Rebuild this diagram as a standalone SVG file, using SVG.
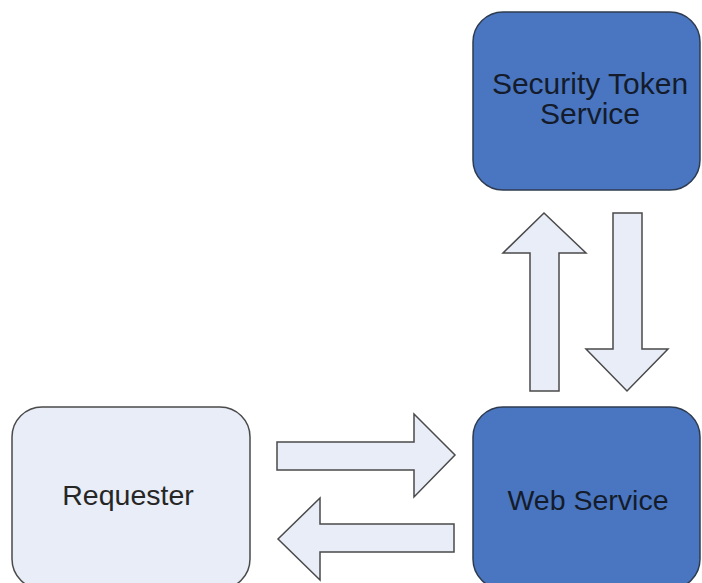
<svg xmlns="http://www.w3.org/2000/svg" width="702" height="583" viewBox="0 0 702 583">
  <style>
    .box-dark { fill: #4a76c1; stroke: #2e3b4f; stroke-width: 1.5; }
    .box-light { fill: #e8edf7; stroke: #4a4a4a; stroke-width: 1.5; }
    .label { font-family: "Liberation Sans", Arial, sans-serif; font-size: 28.5px; text-anchor: middle; }
    .label-big { font-size: 30px; }
    .label-dark { fill: #141c2c; }
    .label-light { fill: #262626; }
    .arrow { fill: #e8edf7; stroke: #4a4a4a; stroke-width: 1.5; stroke-linejoin: miter; }
  </style>
  <rect width="702" height="583" fill="#ffffff"/>

  <g id="sts">
    <rect class="box-dark" x="473" y="12" width="227" height="178" rx="30" ry="30"/>
    <text class="label label-big label-dark" x="590" y="94">Security Token</text>
    <text class="label label-big label-dark" x="590" y="124">Service</text>
  </g>

  <g id="web-service">
    <rect class="box-dark" x="473" y="407" width="227" height="182" rx="30" ry="30"/>
    <text class="label label-dark" x="588" y="510">Web Service</text>
  </g>

  <g id="requester">
    <rect class="box-light" x="12" y="407" width="238" height="182" rx="30" ry="30"/>
    <text class="label label-light" x="128" y="505">Requester</text>
  </g>

  <g id="connectors">
    <!-- Web Service to STS (up) -->
    <polygon class="arrow" points="530,391 559,391 559,253 586,253 544,213 503,253 530,253"/>
    <!-- STS to Web Service (down) -->
    <polygon class="arrow" points="613,213 642,213 642,349 668,349 627,391 586,349 613,349"/>
    <!-- Requester to Web Service (right) -->
    <polygon class="arrow" points="277,442 414,442 414,414 455,455 414,497 414,470 277,470"/>
    <!-- Web Service to Requester (left) -->
    <polygon class="arrow" points="454,524 320,524 320,498 278,539 320,580 320,552 454,552"/>
  </g>
</svg>
